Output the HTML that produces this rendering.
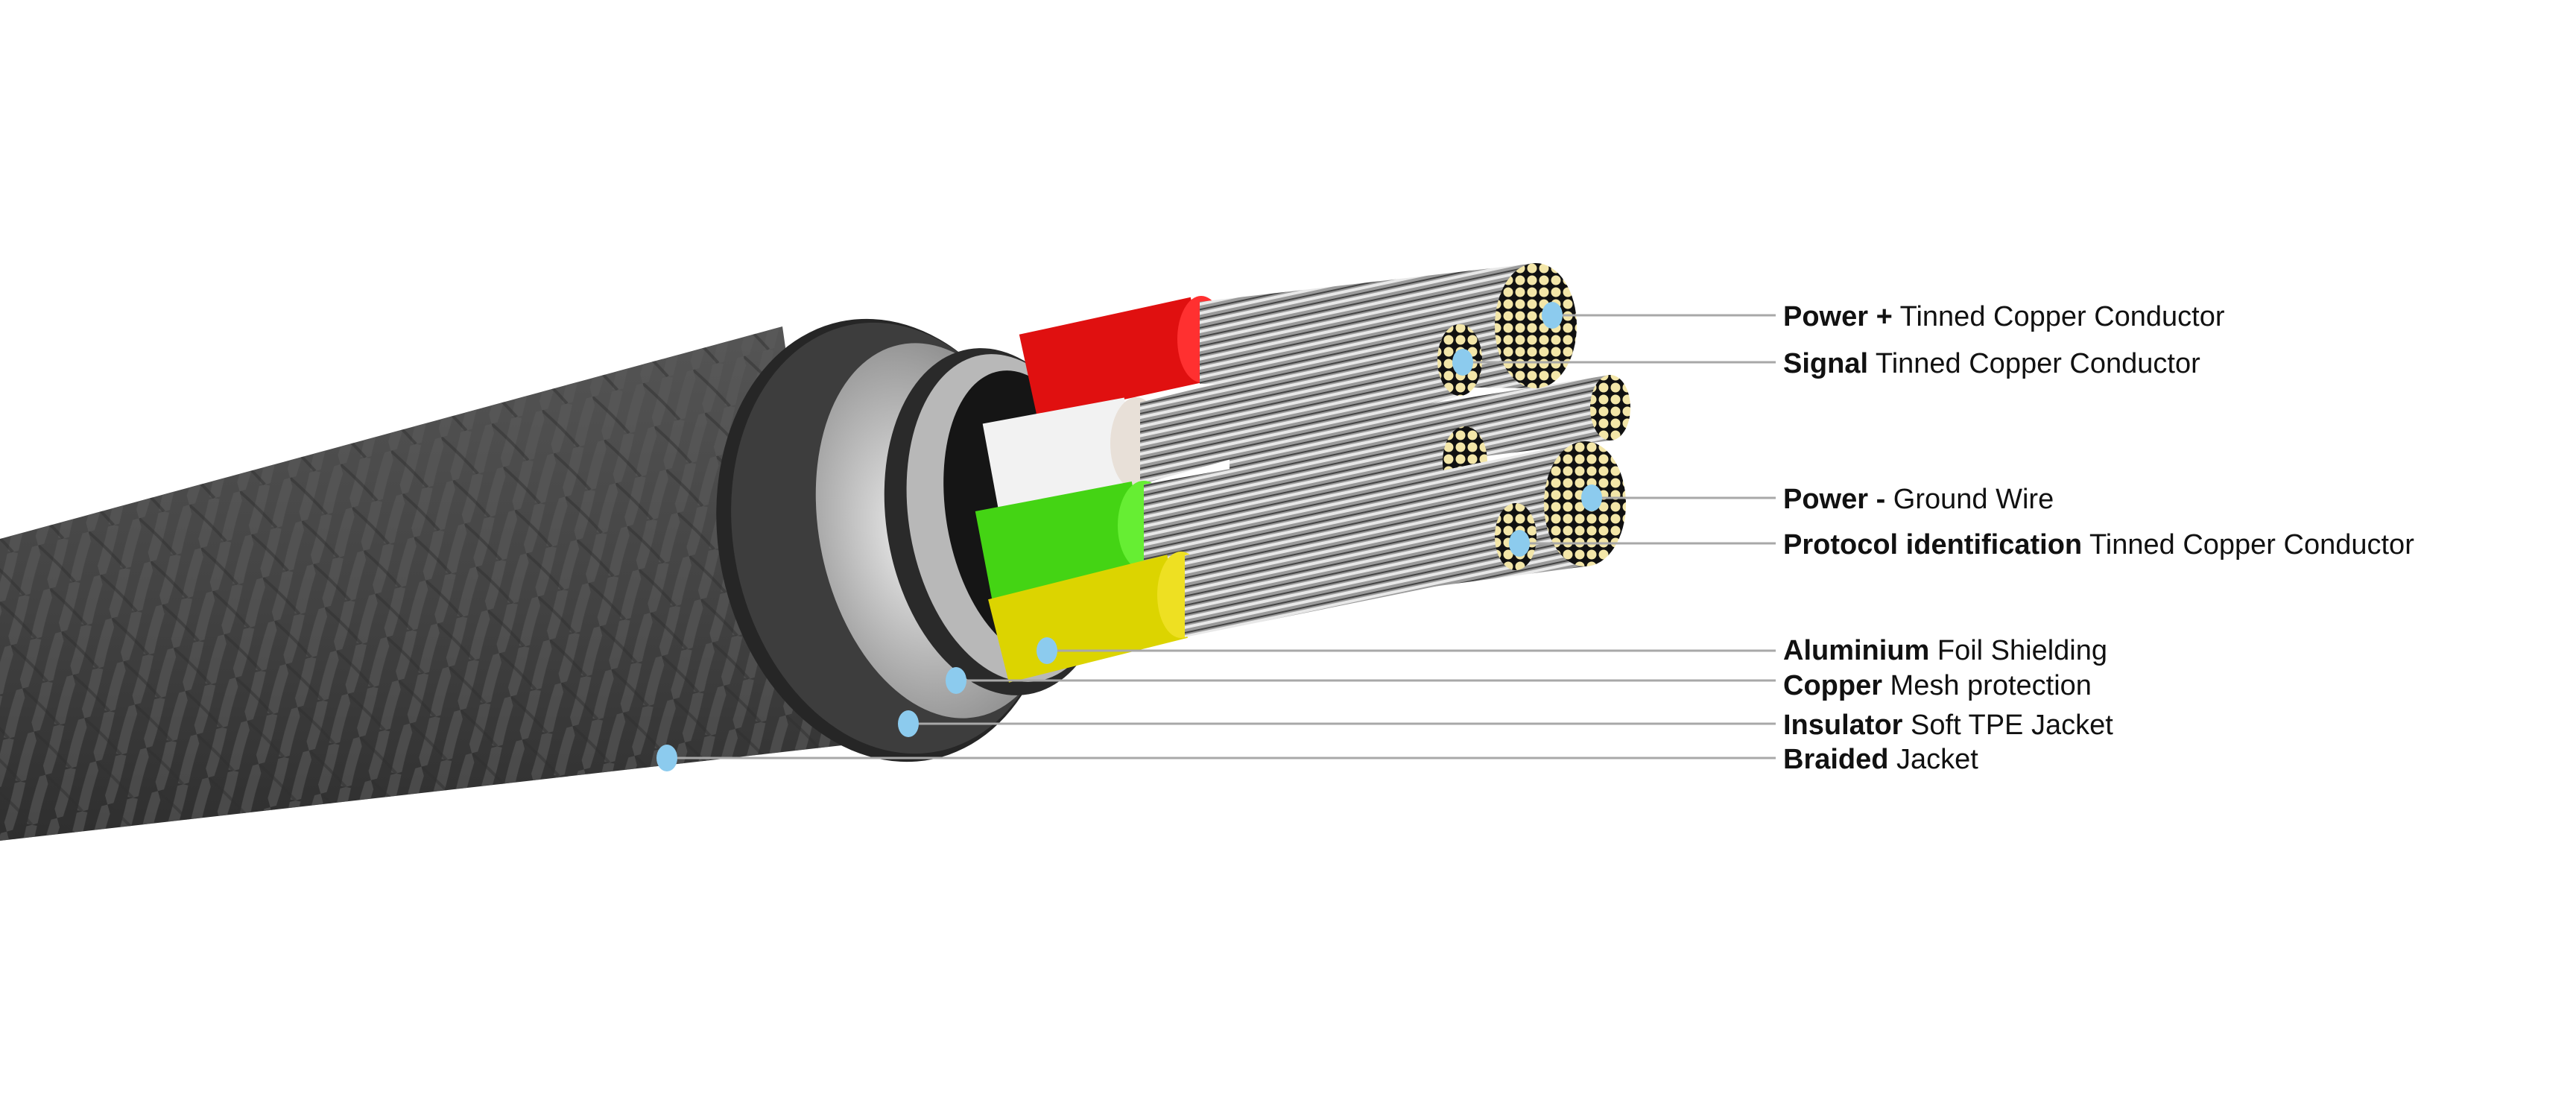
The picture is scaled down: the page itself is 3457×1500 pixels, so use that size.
<!DOCTYPE html>
<html><head><meta charset="utf-8"><style>
html,body{margin:0;padding:0;background:#fff;}
svg{display:block}
text{font-family:"Liberation Sans",Arial,sans-serif;font-size:38px;fill:#111}
.b{font-weight:bold}
</style></head><body>
<svg width="3457" height="1500" viewBox="0 0 3457 1500" xmlns="http://www.w3.org/2000/svg">
<defs>
<linearGradient id="jk" x1="0" y1="0" x2="0" y2="1">
<stop offset="0" stop-color="#555"/><stop offset="0.5" stop-color="#444"/><stop offset="1" stop-color="#2e2e2e"/></linearGradient>
<pattern id="braid" width="70" height="60" patternUnits="userSpaceOnUse" patternTransform="rotate(-15)">
<path d="M0 60 Q20 30 35 0 M35 60 Q50 30 70 0" stroke="#5a5a5a" stroke-width="14" fill="none" opacity="0.6"/>
<path d="M0 0 Q20 30 35 60" stroke="#2f2f2f" stroke-width="4" fill="none" opacity="0.5"/>
</pattern>
<pattern id="strand" width="12" height="12" patternUnits="userSpaceOnUse" patternTransform="rotate(-12)">
<rect width="12" height="12" fill="#9a9a9a"/><rect y="0" width="12" height="4" fill="#e8e8e8"/><rect y="8" width="12" height="2" fill="#444"/></pattern>
<radialGradient id="foil" cx="0.4" cy="0.5" r="0.6"><stop offset="0" stop-color="#eee"/><stop offset="1" stop-color="#888"/></radialGradient>
<pattern id="cu" width="16" height="16" patternUnits="userSpaceOnUse"><rect width="16" height="16" fill="#111"/><circle cx="8" cy="8" r="6.5" fill="#f3e6a8"/></pattern>
</defs>
<polygon points="0,723 1050,438 1130,1000 0,1128" fill="url(#jk)"/>
<polygon points="0,723 1050,438 1130,1000 0,1128" fill="url(#braid)"/>
<ellipse cx="1190" cy="725" rx="225" ry="300" transform="rotate(-12 1190 725)" fill="#262626"/>
<ellipse cx="1200" cy="722" rx="215" ry="292" transform="rotate(-12 1200 722)" fill="#3d3d3d"/>
<ellipse cx="1260" cy="712" rx="160" ry="255" transform="rotate(-12 1260 712)" fill="url(#foil)"/>
<ellipse cx="1340" cy="700" rx="150" ry="235" transform="rotate(-10 1340 700)" fill="#2a2a2a"/>
<ellipse cx="1355" cy="695" rx="135" ry="222" transform="rotate(-10 1355 695)" fill="#b8b8b8"/>
<ellipse cx="1375" cy="690" rx="105" ry="195" transform="rotate(-10 1375 690)" fill="#151515"/>
<path d="M1380 505 L1610 455" stroke="#e01010" stroke-width="115" fill="none"/>
<ellipse cx="1612" cy="455" rx="32" ry="58" fill="#ff3030"/>
<polygon points="1650,585 2161,503 2161,591 1650,655" fill="url(#strand)"/>
<ellipse cx="2161" cy="547" rx="27" ry="44" fill="url(#cu)"/>
<polygon points="1610,405 2061,353 2061,521 1610,515" fill="url(#strand)"/>
<ellipse cx="2061" cy="437" rx="55" ry="84" fill="url(#cu)"/>
<path d="M1330 630 L1520 595" stroke="#f2f2f2" stroke-width="125" fill="none"/>
<ellipse cx="1525" cy="595" rx="35" ry="62" fill="#e8e0d8"/>
<polygon points="1530,540 1959,435 1959,531 1530,650" fill="url(#strand)"/>
<ellipse cx="1959" cy="483" rx="30" ry="48" fill="url(#cu)"/>
<path d="M1320 745 L1530 705" stroke="#44d414" stroke-width="120" fill="none"/>
<ellipse cx="1535" cy="705" rx="35" ry="60" fill="#66ee33"/>
<polygon points="1535,650 1966,572 1966,668 1535,760" fill="url(#strand)"/>
<ellipse cx="1966" cy="620" rx="30" ry="48" fill="url(#cu)"/>
<polygon points="1600,700 2127,592 2127,760 1600,830" fill="url(#strand)"/>
<ellipse cx="2127" cy="676" rx="55" ry="84" fill="url(#cu)"/>
<path d="M1340 860 L1580 800" stroke="#dcd400" stroke-width="115" fill="none"/>
<ellipse cx="1585" cy="798" rx="32" ry="58" fill="#eee022"/>
<polygon points="1590,745 2034,675 2034,765 1590,855" fill="url(#strand)"/>
<ellipse cx="2034" cy="720" rx="28" ry="45" fill="url(#cu)"/>
<g stroke="#a8a8a8" stroke-width="3">
<line x1="2083" y1="423" x2="2383" y2="423"/>
<line x1="1963" y1="486" x2="2383" y2="486"/>
<line x1="2136" y1="668" x2="2383" y2="668"/>
<line x1="2039" y1="729" x2="2383" y2="729"/>
<line x1="1405" y1="873" x2="2383" y2="873"/>
<line x1="1283" y1="913" x2="2383" y2="913"/>
<line x1="1219" y1="971" x2="2383" y2="971"/>
<line x1="895" y1="1017" x2="2383" y2="1017"/>
</g>
<g fill="#8ccbee">
<ellipse cx="2083" cy="423" rx="14" ry="18"/>
<ellipse cx="1963" cy="486" rx="14" ry="18"/>
<ellipse cx="2136" cy="668" rx="14" ry="18"/>
<ellipse cx="2039" cy="729" rx="14" ry="18"/>
<ellipse cx="1405" cy="873" rx="14" ry="18"/>
<ellipse cx="1283" cy="913" rx="14" ry="18"/>
<ellipse cx="1219" cy="971" rx="14" ry="18"/>
<ellipse cx="895" cy="1017" rx="14" ry="18"/>
</g>
<text x="2393" y="437"><tspan class="b">Power +</tspan> Tinned Copper Conductor</text>
<text x="2393" y="500"><tspan class="b">Signal</tspan>  Tinned Copper Conductor</text>
<text x="2393" y="682"><tspan class="b">Power -</tspan> Ground Wire</text>
<text x="2393" y="743"><tspan class="b">Protocol identification</tspan>  Tinned Copper Conductor</text>
<text x="2393" y="885"><tspan class="b">Aluminium</tspan> Foil Shielding</text>
<text x="2393" y="932"><tspan class="b">Copper</tspan> Mesh protection</text>
<text x="2393" y="985"><tspan class="b">Insulator</tspan>  Soft TPE Jacket</text>
<text x="2393" y="1031"><tspan class="b">Braided</tspan> Jacket</text>
</svg>
</body></html>
